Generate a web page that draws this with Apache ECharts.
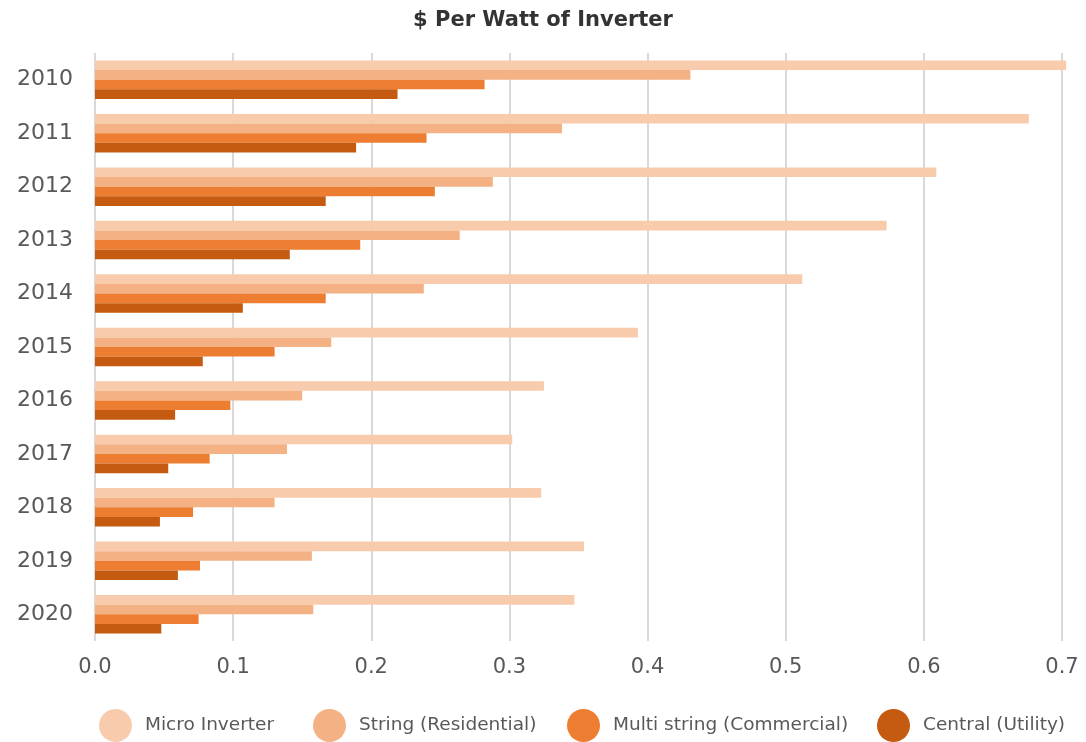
<!DOCTYPE html>
<html>
<head>
<meta charset="utf-8">
<script src="https://cdn.jsdelivr.net/npm/echarts@6/dist/echarts.min.js"></script>
<style>
  html, body { margin: 0; padding: 0; background: #fff; }
  #chart { width: 1086px; height: 742px; }
</style>
</head>
<body>
<div id="chart"></div>
<script>
// Inverter cost in $ per watt, by year and inverter type
const years = ['2010', '2011', '2012', '2013', '2014', '2015', '2016', '2017', '2018', '2019', '2020'];
const seriesNames = ['Micro Inverter', 'String (Residential)', 'Multi string (Commercial)', 'Central (Utility)'];
const microInverter = [0.703, 0.676, 0.609, 0.573, 0.512, 0.393, 0.325, 0.302, 0.323, 0.354, 0.347];
const stringResidential = [0.431, 0.338, 0.288, 0.264, 0.238, 0.171, 0.150, 0.139, 0.130, 0.157, 0.158];
const multiString = [0.282, 0.240, 0.246, 0.192, 0.167, 0.130, 0.098, 0.083, 0.071, 0.076, 0.075];
const centralUtility = [0.219, 0.189, 0.167, 0.141, 0.107, 0.078, 0.058, 0.053, 0.047, 0.060, 0.048];
const xTicks = [0, 0.1, 0.2, 0.3, 0.4, 0.5, 0.6, 0.7];

const colors = ['#F8CBAD', '#F4B183', '#ED7D31', '#C55A11'];
const values = [microInverter, stringResidential, multiString, centralUtility];
const fontFamily = '"DejaVu Sans", sans-serif';
const textColor = '#595959';

// one legend per entry so each sits at its own column
const legendLefts = [99, 313, 567, 877];

const chart = echarts.init(document.getElementById('chart'), null, { renderer: 'canvas' });

chart.setOption({
  animation: false,
  backgroundColor: '#ffffff',
  color: colors,
  title: {
    text: '$ Per Watt of Inverter',
    left: 'center',
    top: 5,
    textStyle: { fontFamily, fontSize: 21, fontWeight: 'bold', color: '#333333' }
  },
  legend: seriesNames.map((name, i) => ({
    data: [name],
    left: legendLefts[i],
    top: 709,
    icon: 'circle',
    itemWidth: 33,
    itemHeight: 33,
    itemGap: 0,
    padding: 0,
    textStyle: { fontFamily, fontSize: 18.5, color: textColor, padding: [0, 0, 0, 8] },
    selectedMode: false
  })),
  grid: { left: 95, right: 24, top: 53, bottom: 101, containLabel: false },
  xAxis: {
    type: 'value',
    min: xTicks[0],
    max: xTicks[xTicks.length - 1],
    interval: 0.1,
    axisLine: { show: false },
    axisTick: { show: false },
    splitLine: { show: true, lineStyle: { color: '#D9D9D9', width: 2 } },
    axisLabel: {
      fontFamily, fontSize: 21, color: textColor, margin: 16,
      formatter: v => v.toFixed(1)
    }
  },
  yAxis: {
    type: 'category',
    data: years,
    inverse: true,
    axisLine: { show: false },
    axisTick: { show: false },
    axisLabel: { fontFamily, fontSize: 22, color: textColor, margin: 22 }
  },
  series: seriesNames.map((name, i) => ({
    name,
    type: 'bar',
    data: values[i],
    clip: false,
    barGap: '0%',
    barCategoryGap: '28%',
    itemStyle: { color: colors[i] }
  }))
});
</script>
</body>
</html>
